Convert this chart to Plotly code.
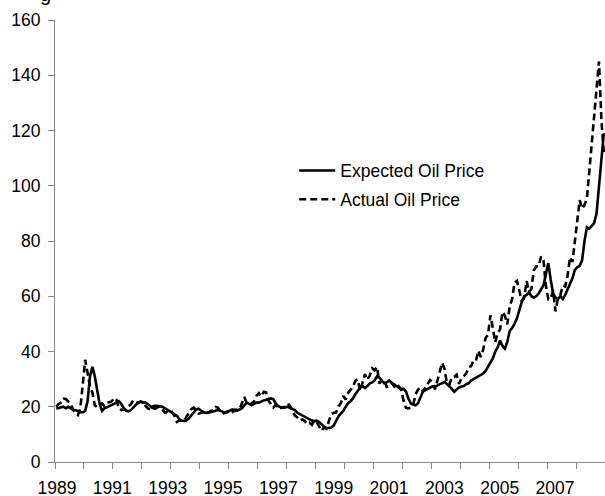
import plotly.graph_objects as go

# Monthly observations, Oct 1989 .. Sep 2008 (228 months)
months = []
y0, m0 = 1989, 10
for k in range(228):
    mm = (m0 - 1 + k) % 12 + 1
    yy = y0 + (m0 - 1 + k) // 12
    months.append(f"{yy}-{mm:02d}")

actual = [
    20.0, 21.0, 21.5,
    22.9, 22.8, 22.0, 21.0, 19.0, 17.5, 17.0, 19.5, 28.0, 37.0, 32.3, 27.3,
    25.2, 20.5, 19.9, 20.8, 21.2, 20.2, 21.4, 21.7, 21.9, 23.2, 22.5, 19.5,
    18.8, 19.0, 18.9, 20.2, 20.9, 22.4, 21.8, 21.4, 21.9, 21.7, 20.3, 19.4,
    19.0, 20.1, 20.3, 20.3, 19.9, 19.1, 17.9, 18.0, 17.5, 18.1, 16.7, 14.5,
    15.0, 14.8, 14.7, 16.4, 17.9, 19.1, 19.7, 18.4, 17.5, 17.7, 18.1, 17.2,
    18.0, 18.5, 18.6, 19.9, 19.7, 18.4, 17.3, 18.0, 18.2, 17.4, 18.0, 19.0,
    18.9, 19.1, 21.3, 23.5, 21.2, 20.4, 21.3, 21.9, 23.9, 24.9, 23.7, 25.4,
    25.2, 22.2, 21.0, 19.7, 20.8, 19.2, 19.6, 19.9, 19.8, 21.3, 20.2, 18.3,
    16.7, 16.1, 15.0, 15.4, 14.9, 13.7, 14.2, 13.5, 15.0, 14.4, 12.9, 11.3,
    12.5, 12.0, 14.7, 17.3, 17.8, 17.9, 20.1, 21.3, 23.9, 22.6, 25.0, 26.1,
    27.2, 29.4, 29.9, 25.7, 28.8, 31.8, 29.7, 31.3, 33.9, 33.1, 34.4, 28.4,
    29.6, 29.6, 27.2, 27.4, 28.6, 27.6, 26.4, 27.4, 26.2, 22.2, 19.6, 19.4,
    19.7, 20.7, 24.5, 26.2, 27.0, 25.5, 26.9, 28.4, 29.7, 28.9, 26.3, 29.4,
    32.9, 35.9, 33.6, 28.3, 28.1, 30.7, 30.8, 31.6, 28.3, 30.3, 31.1, 32.1,
    34.3, 34.7, 36.8, 36.7, 40.3, 38.0, 40.7, 44.9, 46.0, 53.1, 48.5, 43.3,
    46.8, 48.0, 54.3, 53.0, 49.8, 56.4, 59.0, 65.0, 65.6, 62.4, 58.3, 59.4,
    65.5, 61.6, 62.7, 69.4, 70.8, 70.9, 74.4, 73.0, 63.8, 58.9, 59.1, 62.0,
    54.5, 59.3, 60.4, 63.9, 63.5, 67.5, 74.1, 72.4, 79.9, 85.8, 94.8, 91.7,
    93.0, 95.4, 105.5, 112.6, 125.4, 133.9, 145.0, 124.0, 112.0,
]

expected = [
    19.5, 19.5, 19.8, 20.0, 19.5, 20.0, 19.5, 18.8, 18.8, 18.5,
    18.0, 18.0, 18.5, 22.0, 31.0, 34.5, 31.0, 26.0, 21.0, 18.5,
    19.5, 19.8, 20.2, 20.5, 21.0, 21.5, 22.0, 21.0, 19.5, 18.5,
    18.3, 18.8, 19.8, 20.8, 21.5, 21.8, 21.5, 21.6, 21.0, 20.2,
    19.5, 19.3, 19.8, 20.2, 20.0, 19.5, 18.7, 18.2, 18.0, 17.5,
    16.8, 15.5, 15.0, 14.9, 15.0, 15.8, 16.8, 18.0, 19.0, 19.3,
    18.5, 18.0, 17.8, 17.8, 18.0, 18.3, 18.5, 18.8, 18.6, 18.2,
    17.8, 18.2, 18.6, 19.0, 18.5, 18.6, 19.0, 19.5, 20.5, 21.5,
    21.0, 20.5, 21.0, 21.5, 21.5, 22.0, 22.3, 22.5, 22.8, 23.0,
    22.8, 21.2, 20.2, 19.8, 19.6, 19.8, 20.0, 19.5, 19.2, 18.8,
    17.8, 17.3, 17.0, 16.6, 16.0, 15.3, 15.0, 14.8, 15.0, 14.5,
    13.6, 12.8, 12.4, 12.3, 12.5, 13.2, 14.8, 16.5, 17.6, 18.5,
    20.0, 21.3, 22.0, 23.0, 24.5, 26.0, 27.0, 27.5, 26.8, 27.5,
    28.5, 28.8, 29.5, 31.0, 30.5, 29.5, 28.5, 28.8, 29.5, 28.8,
    28.2, 27.3, 26.8, 26.3, 26.5, 25.5, 23.0, 21.2, 20.8, 20.5,
    21.3, 23.5, 25.5, 26.0, 26.5, 27.0, 27.4, 27.2, 27.8, 28.2,
    28.5, 29.0, 28.2, 27.5, 26.5, 25.4, 26.2, 27.0, 27.3, 27.5,
    28.2, 28.5, 29.5, 30.0, 30.5, 31.0, 31.5, 32.0, 33.0, 34.5,
    35.5, 37.5, 40.0, 41.5, 44.0, 42.0, 41.0, 43.5, 47.5, 48.5,
    50.0, 52.0, 55.0, 58.0, 60.0, 60.5, 61.5, 60.0, 59.5, 60.0,
    61.0, 62.5, 64.0, 68.0, 72.0, 66.0, 61.0, 59.5, 59.0, 60.0,
    59.0, 60.5, 62.5, 64.5, 66.5, 69.5, 70.5, 71.0, 73.0, 80.0,
    85.0, 84.5, 85.5, 86.5, 90.0, 99.0, 109.0, 119.0,
]

year_labels = ["1989", "1991", "1993", "1995", "1997",
               "1999", "2001", "2003", "2005", "2007"]
label_spacing = 22.94      # label step in months, as placed on the original axis
y_ticks = [0, 20, 40, 60, 80, 100, 120, 140, 160]

x = list(range(len(months)))
label_pos = [0.33 + k * label_spacing for k in range(len(year_labels))]
year_marks = [k * 12 - 0.5 for k in range(len(months) // 12 + 1)]

FONT = "Liberation Sans, Arial, sans-serif"
AXIS_GREY = "#868686"

fig = go.Figure()
fig.add_trace(go.Scatter(
    x=x, y=expected, mode="lines", name="Expected Oil Price",
    legendgroup="e", line=dict(color="black", width=2.6),
))
fig.add_trace(go.Scatter(
    x=x, y=actual, mode="lines", name="Actual Oil Price",
    legendgroup="a", line=dict(color="black", width=2.6, dash="7px,4px"),
))

fig.update_layout(
    width=605, height=496,
    margin=dict(l=55, r=0, t=20, b=34, autoexpand=False),
    paper_bgcolor="white", plot_bgcolor="white",
    font=dict(family=FONT, size=17.5, color="black"),
    showlegend=True,
    legend=dict(
        x=0.435, y=0.70, xanchor="left", yanchor="top",
        bgcolor="rgba(0,0,0,0)", font=dict(size=17.5),
        itemwidth=36, tracegroupgap=3,
    ),
    annotations=[dict(
        text="g", xref="paper", yref="paper", x=-0.017, y=1.03,
        xanchor="center", yanchor="bottom", showarrow=False,
        font=dict(family=FONT, size=20, color="black"),
    )],
)

fig.update_xaxes(
    range=[-0.5, len(months) - 0.5], automargin=False,
    showline=True, linecolor=AXIS_GREY, linewidth=1,
    showgrid=False, zeroline=False,
    tickmode="array", tickvals=label_pos, ticktext=year_labels,
    ticks="", ticklabelstandoff=10,
    tickfont=dict(size=17.5, color="black"),
    minor=dict(tickmode="array", tickvals=year_marks, ticks="outside",
               ticklen=6, tickcolor=AXIS_GREY, tickwidth=1, showgrid=False),
)
fig.update_yaxes(
    range=[0, 160], automargin=False,
    showline=True, linecolor=AXIS_GREY, linewidth=1,
    showgrid=False, zeroline=False,
    tickmode="array", tickvals=y_ticks,
    ticks="outside", ticklen=6, tickcolor=AXIS_GREY, tickwidth=1,
    ticklabelstandoff=4,
    tickfont=dict(size=17.5, color="black"),
)

fig.write_html(
    "out.html",
    config={"displayModeBar": False},
    post_script="document.body.style.margin='0';document.body.style.overflow='hidden';",
)
